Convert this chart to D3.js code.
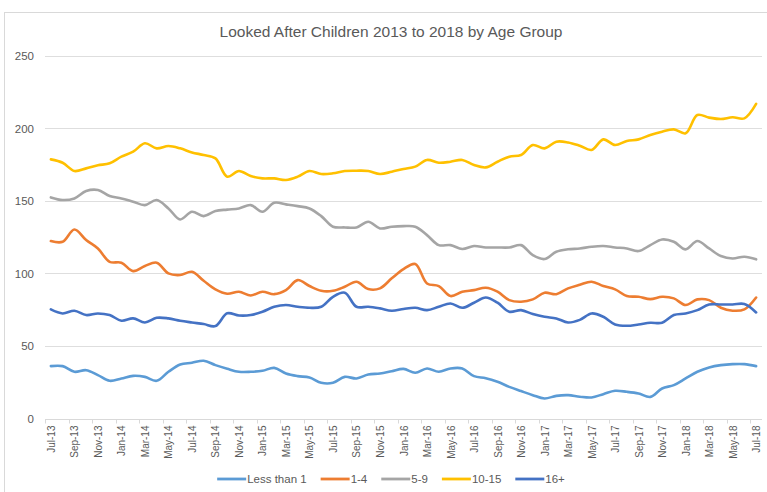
<!DOCTYPE html>
<html>
<head>
<meta charset="utf-8">
<script src="https://cdn.jsdelivr.net/npm/d3@7"></script>
<style>
  html, body { margin: 0; padding: 0; background: #fff; }
  svg { display: block; }
  text { font-family: "Liberation Sans", Arial, sans-serif; fill: #595959; }
</style>
</head>
<body>
<svg id="chart" width="767" height="492"></svg>
<script>
const months = ["Jul-13","Aug-13","Sep-13","Oct-13","Nov-13","Dec-13",
  "Jan-14","Feb-14","Mar-14","Apr-14","May-14","Jun-14","Jul-14","Aug-14","Sep-14","Oct-14","Nov-14","Dec-14",
  "Jan-15","Feb-15","Mar-15","Apr-15","May-15","Jun-15","Jul-15","Aug-15","Sep-15","Oct-15","Nov-15","Dec-15",
  "Jan-16","Feb-16","Mar-16","Apr-16","May-16","Jun-16","Jul-16","Aug-16","Sep-16","Oct-16","Nov-16","Dec-16",
  "Jan-17","Feb-17","Mar-17","Apr-17","May-17","Jun-17","Jul-17","Aug-17","Sep-17","Oct-17","Nov-17","Dec-17",
  "Jan-18","Feb-18","Mar-18","Apr-18","May-18","Jun-18","Jul-18"];

const yTicks = [0, 50, 100, 150, 200, 250];

const seriesNames = ["Less than 1", "1-4", "5-9", "10-15", "16+"];
const seriesColors = ["#5B9BD5", "#ED7D31", "#A5A5A5", "#FFC000", "#4472C4"];

const lessThan1 = [36.1,36.1,32.2,33.3,29.9,26,27.6,29.4,28.7,26,32.2,37.2,38.4,39.8,36.8,34.3,32.2,32.2,32.9,34.9,
  31,29.2,28.3,24.6,24.6,28.7,27.6,30.3,31,32.6,34.2,31.5,34.5,32.2,34.5,34.5,29.2,27.8,25.3,21.8,
  18.9,16.1,13.8,15.6,16.1,15,14.5,16.8,19.1,18.4,17.2,14.9,20.7,23,27.6,32.2,35.2,36.8,37.5,37.5,36.1];
const age1to4 = [122.3,121.8,130.3,123,117.2,108,107.4,101.6,105.1,107.4,100,98.9,101.1,94.9,89,86,87.4,84.8,87.4,85.7,
  88.5,95.4,91.3,88,88,90.8,94.3,89.2,89.7,96.6,103,106.5,93.1,91.3,84.4,87.4,88.5,90.1,87.4,81.6,
  80.5,82.1,86.7,85.7,89.7,92.2,94.3,91.3,89,84.4,83.9,82.3,83.9,82.8,78.2,82.1,81.6,76.3,74.3,75.2,83.4];
const age5to9 = [152.4,150.6,151.7,156.8,157.5,153.3,151.7,149.4,147.1,150.6,144.8,137.2,142.5,139.5,143,144,144.8,147.1,142.5,148.7,
  147.6,146.4,144.8,139.5,132.2,131.7,131.7,135.6,131,132.2,132.6,132.2,126.4,119.5,119.5,116.8,118.9,117.9,117.9,117.9,
  119.5,112.6,109.9,114.9,116.6,117.2,118.4,118.9,117.9,117.2,115.4,119.5,123.4,121.8,116.6,122.3,117.2,112,110.3,111.5,109.7];
const age10to15 = [178.6,176.3,170.6,172.4,174.5,175.9,180.5,183.9,189.7,186.2,187.8,186.2,183.4,181.6,179.3,166.7,170.6,167.1,165.5,165.5,
  164.4,166.7,170.6,168.5,169,170.6,170.8,170.6,168.5,170.1,172,173.6,178.2,176.3,177,178.2,174.7,173.1,177,180.5,
  181.6,188.5,186.2,190.8,190.3,188,185.1,192.4,188.5,191.3,192.4,195.4,197.7,199.3,196.6,209.2,207.4,206.4,207.6,206.9,216.8];
const age16plus = [75.2,72.4,74.3,71.3,72.4,71.3,67.4,69,66.2,69.4,69,67.4,66.2,65.1,63.7,72.5,71,71.3,73.6,77,
  78.2,77,76.3,77,83.9,86.7,77,77,75.9,74.3,75.5,76.3,74.7,77,79.3,76.3,79.8,83.4,79.8,73.6,
  74.7,72,70.1,69,66.2,68,72.4,70.1,64.8,63.9,64.8,66,66,71.3,72.4,74.7,78.6,78.6,78.6,78.9,73.1];

const seriesValues = [lessThan1, age1to4, age5to9, age10to15, age16plus];

const svg = d3.select("#chart");

// chart border
svg.append("rect")
  .attr("x", 4.5).attr("y", 12.5)
  .attr("width", 800).attr("height", 520)
  .attr("fill", "#fff").attr("stroke", "#d9d9d9").attr("stroke-width", 1);

const plotLeft = 45, plotRight = 762, plotTop = 55.8, plotBottom = 418.5;

const x = d3.scalePoint().domain(months).range([plotLeft, plotRight]).padding(0.5);
const y = d3.scaleLinear().domain([0, 250]).range([plotBottom, plotTop]);

// title
svg.append("text")
  .attr("x", 391).attr("y", 36.5)
  .attr("text-anchor", "middle")
  .style("font-size", "15.5px")
  .text("Looked After Children 2013 to 2018 by Age Group");

// gridlines
svg.append("g")
  .selectAll("line")
  .data(yTicks.filter(d => d > 0))
  .join("line")
  .attr("x1", plotLeft).attr("x2", plotRight)
  .attr("y1", d => Math.round(y(d)) + 0.5).attr("y2", d => Math.round(y(d)) + 0.5)
  .attr("stroke", "#dedede").attr("stroke-width", 1);

// y axis labels
const yAxis = d3.axisLeft(y).tickValues(yTicks).tickSize(0).tickPadding(0);
const gy = svg.append("g").attr("transform", `translate(34,0)`).call(yAxis);
gy.select(".domain").remove();
gy.selectAll("text").style("font-size", "11.5px").attr("fill", "#595959");

// x axis
const step = x.step();
const xAxis = d3.axisBottom(x)
  .tickValues(months.filter((d, i) => i % 2 === 0))
  .tickSize(0).tickPadding(0);
const gx = svg.append("g").attr("transform", `translate(0,${Math.round(plotBottom) + 0.5})`).call(xAxis);
gx.select(".domain").attr("stroke", "#d9d9d9").attr("d", `M${plotLeft},0H${plotRight}`);
gx.selectAll(".tick text")
  .style("font-size", "10px")
  .attr("fill", "#595959")
  .attr("transform", "rotate(-90)")
  .attr("text-anchor", "end")
  .attr("x", -6).attr("y", 0)
  .attr("dy", "0.35em");
// boundary tick marks every two categories
const boundaries = d3.range(0, months.length + 1, 2).map(i => plotLeft + i * step);
gx.append("g").selectAll("line")
  .data(boundaries)
  .join("line")
  .attr("x1", d => Math.round(d) + 0.5).attr("x2", d => Math.round(d) + 0.5)
  .attr("y1", 0).attr("y2", 4)
  .attr("stroke", "#d9d9d9");

// lines
const line = d3.line()
  .x((d, i) => x(months[i]))
  .y(d => y(d))
  .curve(d3.curveCatmullRom.alpha(0.5));

svg.append("g")
  .selectAll("path")
  .data(seriesValues)
  .join("path")
  .attr("d", d => line(d))
  .attr("fill", "none")
  .attr("stroke", (d, i) => seriesColors[i])
  .attr("stroke-width", 2.6)
  .attr("stroke-linejoin", "round")
  .attr("stroke-linecap", "round");

// legend
const legend = svg.append("g");
let lx = 0;
seriesNames.forEach((name, i) => {
  const g = legend.append("g");
  g.append("line")
    .attr("x1", lx).attr("x2", lx + 29)
    .attr("y1", 0).attr("y2", 0)
    .attr("stroke", seriesColors[i]).attr("stroke-width", 2.8);
  const t = g.append("text")
    .attr("x", lx + 30).attr("y", 0).attr("dy", "0.35em")
    .style("font-size", "11.5px")
    .text(name);
  const w = t.node().getComputedTextLength();
  lx += 30 + w + 14;
});
const totalW = lx - 14;
legend.attr("transform", `translate(${391 - totalW / 2},479)`);
</script>
</body>
</html>
